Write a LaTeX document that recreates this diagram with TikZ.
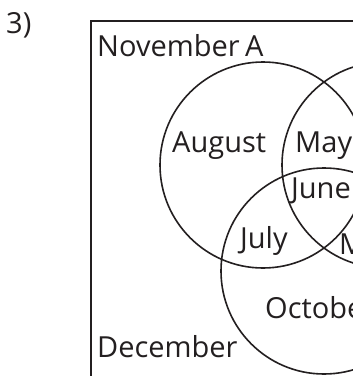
\documentclass[tikz,border=0pt]{standalone}
\usepackage{fontspec}
\setmainfont{Open Sans}
\definecolor{ink}{HTML}{231F20}
\begin{document}
\begin{tikzpicture}[x=1pt,y=-1pt,
  lbl/.style={anchor=base west,inner sep=0pt,text=ink,font=\fontsize{29}{31}\selectfont},
  setc/.style={circle,draw=ink,line width=1.6pt,minimum size=206pt,inner sep=0pt}]
\useasboundingbox (0,0) rectangle (353,376);
\clip (0,0) rectangle (353,376);
\node[draw=ink,line width=2.2pt,minimum width=600pt,minimum height=600pt,anchor=north west,inner sep=0pt,outer sep=0pt] (U) at (91,21) {};
\node[setc] (A) at (263,165) {};
\node[setc] (B) at (385,165) {};
\node[setc] (C) at (324,271) {};
\node[lbl] (num) at (6,33) {3)};
\node[lbl] (nov) at (97,56) {November};
\node[lbl] (Alab) at (245,56) {A};
\node[lbl] (aug) at (172,152) {August};
\node[lbl] (may) at (295,152) {May};
\node[lbl] (jun) at (291,198) {June};
\node[lbl] (jul) at (240,248) {July};
\node[lbl] (m) at (339,254) {M};
\node[lbl] (oct) at (265,318) {October};
\node[lbl] (dec) at (97,357) {December};
\end{tikzpicture}
\end{document}
